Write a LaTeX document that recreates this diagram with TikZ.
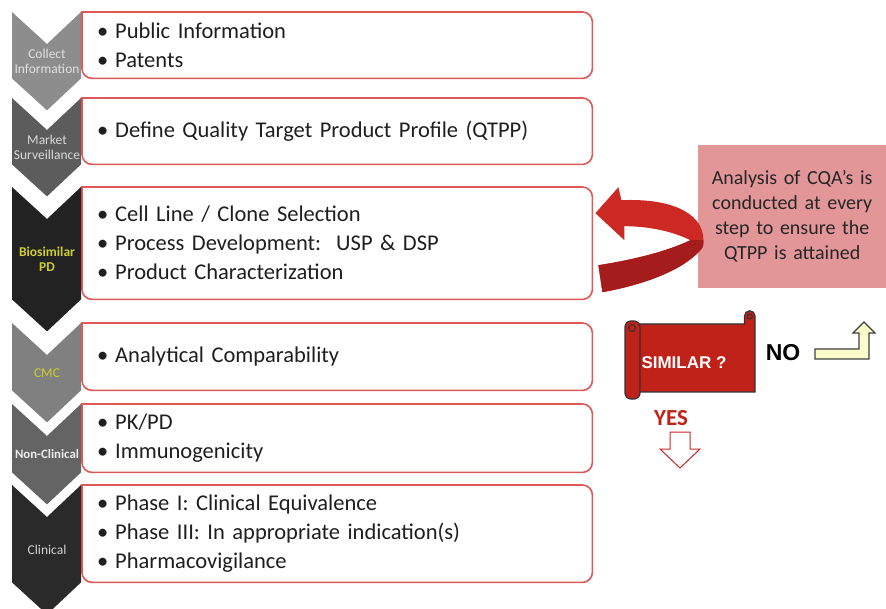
\documentclass[tikz,border=0pt]{standalone}
\usepackage{fontspec}
\setmainfont{Carlito}
\newfontfamily\arialfont{Liberation Sans}
\usetikzlibrary{positioning}

\definecolor{boxred}{RGB}{222,88,88}
\definecolor{chevA}{RGB}{141,141,141}
\definecolor{chevB}{RGB}{92,92,92}
\definecolor{chevC}{RGB}{34,34,34}
\definecolor{chevD}{RGB}{128,128,128}
\definecolor{chevE}{RGB}{100,100,100}
\definecolor{chevF}{RGB}{42,42,42}
\definecolor{labyellow}{RGB}{206,206,40}
\definecolor{notepink}{RGB}{226,150,152}
\definecolor{ribbonred}{RGB}{204,40,36}
\definecolor{ribbondark}{RGB}{165,28,28}
\definecolor{scrollred}{RGB}{192,34,26}
\definecolor{paleyellow}{RGB}{251,251,204}

\newcommand{\bul}{\makebox[18pt][l]{\textbullet}}

\begin{document}
\begin{tikzpicture}[
        x=1pt, y=-1pt,
        stage/.style={rectangle, anchor=north west, fill=white, minimum width=510pt, text width=480pt, inner xsep=15pt, inner ysep=0pt, align=left, text=black!88, font=\fontsize{22.5}{29}\selectfont},
        boxline/.style={draw=boxred, line width=1.6pt},
        chevlabel/.style={align=center, inner sep=0pt, font=\fontsize{13.5}{14.5}\selectfont},
        note/.style={rectangle, anchor=north west, fill=notepink, minimum width=188pt, minimum height=143pt, text width=180pt, align=center, text=black!85, font=\fontsize{20}{25}\selectfont}
      ]
      \useasboundingbox (0,0) rectangle (886,609);

      % Stage boxes
      \node[stage, minimum height=66pt] (b1) at (82,12) {\bul Public Information\\\bul Patents};
      \node[stage, minimum height=66pt] (b2) at (82,98) {\bul Define Quality Target Product Profile (QTPP)};
      \node[stage, minimum height=112pt] (b3) at (82,187) {\bul Cell Line / Clone Selection\\\bul Process Development:\ \ USP \& DSP\\\bul Product Characterization};
      \node[stage, minimum height=67pt] (b4) at (82,323) {\bul Analytical Comparability};
      \node[stage, minimum height=68pt] (b5) at (82,404) {\bul PK/PD\\\bul Immunogenicity};
      \node[stage, minimum height=97pt] (b6) at (82,485) {\bul Phase I: Clinical Equivalence\\\bul Phase III: In appropriate indication(s)\\\bul Pharmacovigilance};

      % Borders, square on the left and rounded on the right
      \foreach \b in {b1,b2,b3,b4,b5,b6}
        \draw[boxline] (\b.north west) [rounded corners=10pt] -- (\b.north east) -- (\b.south east) -- (\b.south west) [sharp corners] -- cycle;

      % Chevrons
      \foreach \b/\c in {b1/chevA, b2/chevB, b3/chevC, b4/chevD, b5/chevE, b6/chevF}
        \fill[\c] ([xshift=-70pt]\b.north west) -- ([xshift=-35pt,yshift=-32pt]\b.north west) -- ([xshift=-1pt]\b.north west)
          -- ([xshift=-1pt]\b.south west) -- ([xshift=-35pt,yshift=-32pt]\b.south west) -- ([xshift=-70pt]\b.south west) -- cycle;

      \node[chevlabel, text=black!12] (lab1) at ([xshift=-35pt,yshift=-16pt]b1.west) {Collect\\Information};
      \node[chevlabel, text=black!15] (lab2) at ([xshift=-35pt,yshift=-16pt]b2.west) {Market\\Surveillance};
      \node[chevlabel, text=labyellow, font=\fontsize{13.5}{14.5}\selectfont\bfseries] (lab3) at ([xshift=-35pt,yshift=-16pt]b3.west) {Biosimilar\\PD};
      \node[chevlabel, text=labyellow] (lab4) at ([xshift=-35pt,yshift=-16pt]b4.west) {CMC};
      \node[chevlabel, text=black!8, font=\fontsize{12.8}{14.5}\selectfont\bfseries] (lab5) at ([xshift=-35pt,yshift=-16pt]b5.west) {Non-Clinical};
      \node[chevlabel, text=black!18] (lab6) at ([xshift=-35pt,yshift=-16pt]b6.west) {Clinical};

      % Note on CQA analysis
      \node[note] (cqa) at (698,145) {Analysis of CQA’s is\\conducted at every\\step to ensure the\\QTPP is attained};

      % Curved ribbon arrow back into the PD box
      \begin{scope}[shift={(b3.east)}]
        \fill[ribbonred] (3,-30) -- (26,-56) -- (29,-43) .. controls (73,-45) and (111,-33) .. (111,-3)
          .. controls (111,3) .. (108,7) .. controls (88,29) and (48,42) .. (10,49) -- (6,22)
          .. controls (38,17) and (73,9) .. (98,-3) .. controls (78,-13) and (53,-17) .. (32,-17)
          -- (32,-3) -- cycle;
        \fill[ribbondark] (6,22) .. controls (38,17) and (73,9) .. (98,-3) -- (111,-3)
          .. controls (111,3) .. (108,7) .. controls (88,29) and (48,42) .. (10,49) -- cycle;
      \end{scope}

      % Scroll with the question
      \filldraw[fill=scrollred, draw=black!80, line width=1.2pt] (634,324) -- (744.5,324) -- (744.5,316) arc[start angle=180, end angle=360, radius=5.25] -- (755,392) -- (634,392) -- cycle;
      \draw[black!80, line width=1.1pt] (749.75,316.5) circle[radius=2.5];
      \filldraw[fill=scrollred, draw=black!80, line width=1.2pt, rounded corners=6pt] (625,321) rectangle (640,399);
      \draw[black!80, line width=1.1pt] (632,328) circle[radius=3.5];
      \node[text=white, font=\arialfont\bfseries\fontsize{17}{20}\selectfont] (sim) at (684,363) {SIMILAR ?};

      % Answers
      \node[font=\arialfont\bfseries\fontsize{23}{26}\selectfont] (no) at (783,353) {NO};
      \filldraw[fill=paleyellow, draw=black!75, line width=1.3pt] (815,349) -- (859,349) -- (859,333) -- (853,333) -- (864,322) -- (875,333)
        -- (869,333) -- (869,359) -- (815,359) -- cycle;

      \node[text=scrollred, font=\fontsize{23}{26}\selectfont\bfseries] (yes) at (671,418) {YES};
      \filldraw[fill=white, draw=red!75!black!85, line width=1pt] (670,432) -- (690,432) -- (690,449) -- (700,449) -- (680,468) -- (660,449)
        -- (670,449) -- cycle;

    \end{tikzpicture}
\end{document}
